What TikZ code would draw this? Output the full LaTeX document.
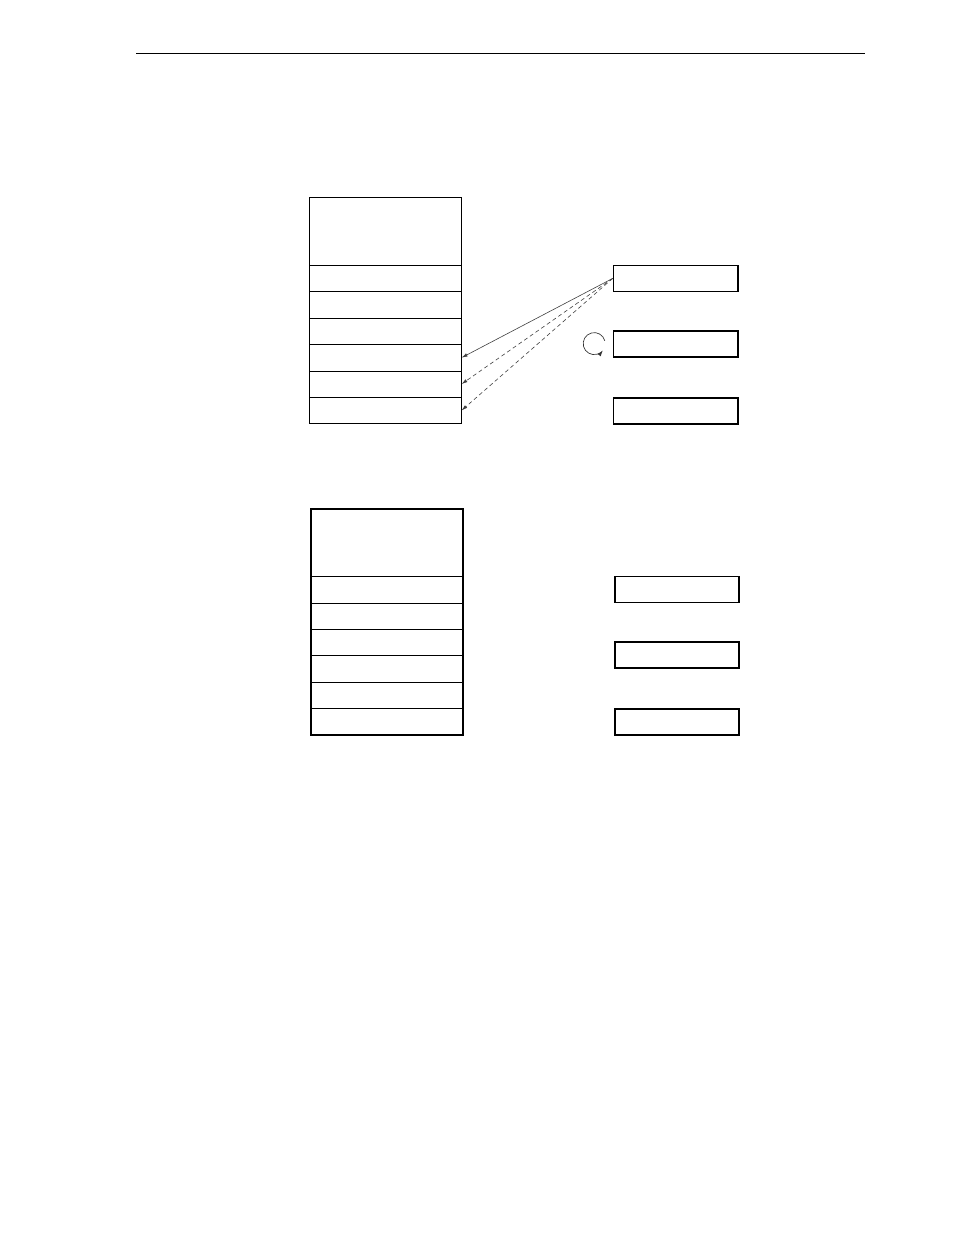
\documentclass[tikz,border=0pt]{standalone}
\usetikzlibrary{arrows.meta,calc}
\begin{document}
\begin{tikzpicture}[x=0.75pt,y=-0.75pt,
  cellA/.style={draw,line width=0.6pt,inner sep=0pt,anchor=north west,minimum width=114pt},
  cellB/.style={draw,line width=0.7pt,inner sep=0pt,anchor=north west,minimum width=113.6pt},
  boxR/.style={draw,line width=1.1pt,inner sep=0pt,anchor=north west,minimum width=93.3pt,minimum height=19.3pt},
  boxS/.style={draw,line width=1.1pt,inner sep=0pt,anchor=north west,minimum width=93.2pt,minimum height=19.5pt},
  link/.style={line width=0.45pt,draw=black!75,-{Latex[length=4.5pt,width=2.6pt]}},
  dlink/.style={link,dash pattern=on 3pt off 2.2pt}]
\useasboundingbox (0,0) rectangle (954,1235);
% header rule
\coordinate (hl) at (136,53.5);
\coordinate (hr) at (865,53.5);
\draw[line width=0.8pt] (hl) -- (hr);
\begin{scope}[xshift=-0.6pt,yshift=0.3pt]
% top stack
\node[cellA,minimum height=51pt] (A0) at (309.5,197.3) {};
\node[cellA,minimum height=19.8pt] (A1) at (309.5,265.3) {};
\node[cellA,minimum height=19.8pt] (A2) at (309.5,291.7) {};
\node[cellA,minimum height=19.8pt] (A3) at (309.5,318.1) {};
\node[cellA,minimum height=19.8pt] (A4) at (309.5,344.5) {};
\node[cellA,minimum height=19.8pt] (A5) at (309.5,370.9) {};
\node[cellA,minimum height=19.8pt] (A6) at (309.5,397.3) {};
% top right boxes
\node[boxR] (R1) at (613.5,265.2) {};
\node[boxR] (R2) at (613.5,330.8) {};
\node[boxR] (R3) at (613.5,397.8) {};
% rotation symbol
\coordinate (rot) at (595,344);
\draw[line width=0.5pt,draw=black!80,-{Latex[length=4.5pt,width=3pt]}]
  ($(rot)+(-15:11)$) arc[start angle=-15,end angle=-322,radius=11];
% connectors
\draw[link] (R1.west) -- (A4.east);
\draw[dlink] (R1.west) -- (A5.east);
\draw[dlink] (R1.west) -- (A6.east);
% bottom stack
\node[cellB,minimum height=50.25pt] (B0) at (311.5,509.5) {};
\node[cellB,minimum height=19.8pt] (B1) at (311.5,576.5) {};
\node[cellB,minimum height=19.8pt] (B2) at (311.5,602.9) {};
\node[cellB,minimum height=19.8pt] (B3) at (311.5,629.3) {};
\node[cellB,minimum height=19.8pt] (B4) at (311.5,655.7) {};
\node[cellB,minimum height=19.8pt] (B5) at (311.5,682.1) {};
\node[cellB,minimum height=19.8pt] (B6) at (311.5,708.5) {};
\draw[line width=1.5pt] (B0.north west) rectangle (B6.south east);
% bottom right boxes
\node[boxS] (S1) at (615,576.2) {};
\node[boxS] (S2) at (615,641.7) {};
\node[boxS] (S3) at (615,708.8) {};
\end{scope}
\end{tikzpicture}
\end{document}
